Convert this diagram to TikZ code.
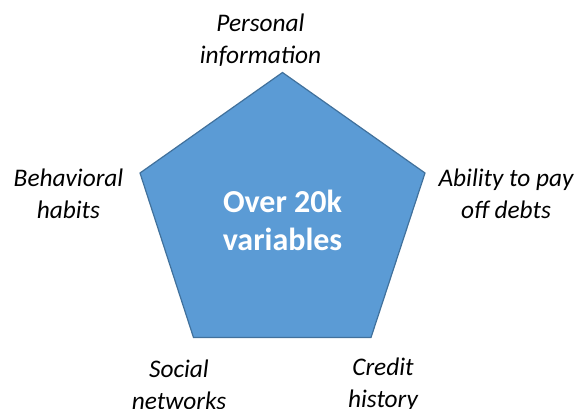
\documentclass[tikz,border=0pt]{standalone}
\usepackage{fontspec}
\setmainfont{Carlito}
\usepackage{tikz}
\usetikzlibrary{positioning, calc}
\usepackage{xcolor}
\definecolor{shapefill}{HTML}{5B9BD5}
\definecolor{shapeline}{HTML}{41719C}

\begin{document}
\begin{tikzpicture}[
    x=0.75pt, y=-0.75pt,
    factor/.style={align=center, font=\fontsize{19}{24}\selectfont\itshape, inner sep=0pt},
    core/.style={align=center, text=white, font=\fontsize{24}{28.5}\selectfont\bfseries, inner sep=0pt}
]
\useasboundingbox (0,0) rectangle (574,409);
% pentagon corners
\coordinate (top) at (282.5,72.5);
\coordinate (right) at (425,173);
\coordinate (botright) at (371,337.5);
\coordinate (botleft) at (193.5,337.5);
\coordinate (left) at (140,173);
\draw[shapeline, fill=shapefill, line width=0.9pt, line join=miter]
    (top) -- (right) -- (botright) -- (botleft) -- (left) -- cycle;

\node[core] (center) at (282.5,220) {Over 20k\\variables};

\node[factor] (personal) at (260.5,40) {Personal\\information};
\node[factor] (ability) at (506,194) {Ability to pay\\off debts};
\node[factor] (credit) at (383,385) {Credit\\history};
\node[factor] (social) at (179,385) {Social\\networks};
\node[factor] (habits) at (68.5,194) {Behavioral\\habits};
\end{tikzpicture}
\end{document}
